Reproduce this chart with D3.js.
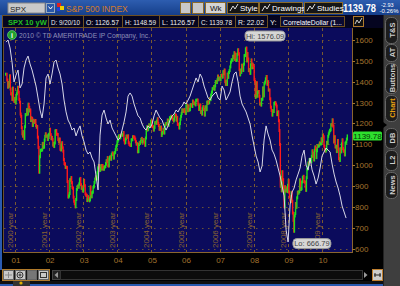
<!DOCTYPE html>
<html><head><meta charset="utf-8">
<script src="https://cdn.jsdelivr.net/npm/d3@7"></script>
<style>
html,body{margin:0;padding:0;background:#000;overflow:hidden}
svg{display:block;font-family:"Liberation Sans",Arial,sans-serif}
</style></head><body>
<svg id="c" width="400" height="286"></svg>
<script>
// ---------- data ----------
const yTicks = [600,700,800,900,1000,1100,1200,1300,1400,1500,1600];
const yearLabels = ["01","02","03","04","05","06","07","08","09","10"];
const yearTexts = ["2000 year","2001 year","2002 year","2003 year","2004 year","2005 year","2006 year","2007 year","2008 year","2009 year"];
// weekly closes of SPX grouped by month, Sep 2000 .. Sep 2010
const weeklyCloses = [
[1436],[1408,1374,1396,1379],[1428,1365,1342,1341,1315],[1369,1312,1305,1320],
[1298,1318,1342,1354,1373],[1350,1315,1302,1245],[1234,1180,1150,1139,1160],[1128,1184,1242,1242],[1266,1245,1292,1277],[1260,1264,1214,1226,1224],[1190,1215,1210,1205],[1214,1190,1182,1185,1134],[1085,966,1040,1071],[1071,1073,1104,1084],[1087,1120,1138,1150,1139],[1139,1123,1144,1148],
[1172,1146,1127,1133],[1122,1096,1104,1089,1106],[1164,1166,1148,1147],[1122,1111,1125,1076],[1073,1096,1107,1083,1067],[1027,1007,1006,989,990],[989,921,847,852],[864,930,928,940,916],[893,889,846,827,815],[800,835,884,897],[900,894,910,930,936],[906,889,895,876,880],
[927,901,862,856],[855,830,834,848,841],[829,834,895,863,848],[868,871,893,898,917],[933,944,934,963],[987,998,995,975],[985,998,981,998,990],[980,990,993,1008],[1021,1018,1036,997,996],[1029,1038,1039,1028,1050],[1058,1053,1034,1058],[1061,1074,1088,1095,1112],
[1121,1139,1141,1131],[1142,1145,1144,1145],[1156,1121,1109,1108,1126],[1139,1135,1134,1140,1107],[1099,1096,1094,1121],[1122,1136,1135,1134],[1125,1112,1101,1102],[1064,1065,1099,1107,1104],[1113,1123,1128,1110,1114],[1122,1108,1095,1130],[1167,1184,1170,1182],[1191,1189,1194,1210,1212],
[1186,1184,1168,1181],[1203,1205,1201,1211],[1222,1200,1190,1172,1181],[1172,1182,1142,1152,1157],[1172,1154,1189,1198],[1197,1200,1216,1191],[1211,1227,1229,1234],[1226,1231,1219,1212,1220],[1235,1241,1237,1216,1229],[1196,1195,1178,1199],[1220,1234,1248,1265,1257],[1263,1259,1267,1256,1248],
[1285,1288,1261,1283],[1264,1266,1289,1289],[1287,1281,1307,1302,1295],[1297,1289,1311,1311],[1312,1292,1267,1280],[1288,1253,1256,1245,1270],[1280,1267,1240,1278],[1279,1266,1302,1296,1304],[1299,1319,1314,1336],[1350,1366,1368,1377],[1364,1380,1401,1401,1396],[1409,1427,1410,1416,1418],
[1409,1431,1430,1422],[1448,1438,1456,1400],[1387,1402,1387,1436,1421],[1444,1453,1471,1494],[1505,1505,1522,1515],[1539,1507,1532,1502,1503],[1531,1553,1534,1458],[1433,1453,1445,1479,1474],[1454,1484,1525,1526],[1557,1561,1500,1535,1509],[1453,1458,1440,1481],[1504,1467,1484,1478,1468],
[1411,1401,1325,1330,1395],[1331,1349,1353,1330],[1293,1293,1288,1315,1316],[1370,1332,1390,1398],[1414,1425,1388,1400],[1360,1360,1318,1278],[1262,1240,1260,1257],[1296,1298,1299,1292,1283],[1242,1252,1255,1213,1166],[1099,899,940,877,968],[930,873,800,896],[876,879,887,873,903],
[927,870,850,832,826],[869,827,770,735],[683,756,768,816,798],[843,870,866,873],[929,883,887,919],[940,946,921,918],[897,879,940,979,987],[1010,1005,1026,1028,1021],[1016,1042,1068,1044,1057],[1025,1071,1087,1080,1036],[1069,1093,1091,1091,1096],[1106,1102,1102,1126,1115],
[1145,1136,1091,1074],[1067,1075,1109,1105],[1138,1150,1159,1166,1169],[1194,1192,1217,1187],[1111,1136,1087,1089],[1065,1092,1118,1076,1031],[1022,1078,1064,1102],[1121,1079,1071,1065,1049],[1105,1110,1125,1140]
];
const firstMonth = "2000-09-01";
// CorrelateDollar study line (in price-scale units), evenly spaced in time
const dollarStart = "2000-09-27", dollarEnd = "2010-09-16";
const dollarLine = [1590,1600,1562,1494,1399,1432,1456,1370,1389,1466,1504,1523,1485,1456,1418,1379,1322,1264,1226,1293,1418,1437,1389,1437,1494,1504,1466,1437,1389,1312,1255,1216,1197,1168,1178,1140,1168,1188,1140,1111,1072,1053,1063,1034,1015,948,881,1144,1240,1264,1226,1197,1216,1178,1159,1140,1120,1130,1168,1207,1255,1331,1346,1331,1293,1264,1236,1226,1197,1178,1168,1188,1178,1197,1236,1264,1245,1226,1216,1188,1168,1188,1216,1236,1245,1264,1255,1274,1283,1303,1293,1312,1331,1360,1389,1418,1399,1437,1418,1379,1351,1322,1312,1331,1341,1351,1322,1312,1379,1360,1312,1331,1351,1399,1437,1447,1399,1331,1293,1274,1255,1226,1197,1140,1092,1044,1015,967,996,1120,1188,1149,1120,1072,1053,1024,986,948,900,852,689,631,809,871,890,929,957,986,1044,1072,1000,977,1034,977,948,909,938,986,1044,1063,1082,1072,1063,1005,957,919,890,852,804,775,746];
const hiValue = 1576.09, hiDate = "2007-10-11";
const loValue = 666.79, loDate = "2009-03-06";
const lastPrice = 1139.78;
const headerFields = ["D: 9/20/10","O: 1126.57","H: 1148.59","L: 1126.57","C: 1139.78","R: 22.02"];
const sideTabs = ["T&S","AT","Buttons","Chart","DB","L2","News"];

// ---------- setup ----------
const svg = d3.select("#c");
const P = {l:4, r:352, t:28, b:252};
const x = d3.scaleTime().domain([new Date(2001,0,1), new Date(2010,0,1)]).range([15, 322]);
const y = d3.scaleLinear().domain([600,1600]).range([248.5, 40]);
const brown = "#a5742f";

svg.append("rect").attr("width",400).attr("height",286).attr("fill","#000");

// ---------- top bar ----------
const topG = svg.append("g");
const grad = svg.append("defs").append("linearGradient").attr("id","tb").attr("x1",0).attr("x2",0).attr("y1",0).attr("y2",1);
grad.append("stop").attr("offset",0).attr("stop-color","#2d5db0");
grad.append("stop").attr("offset",1).attr("stop-color","#163f8a");
topG.append("rect").attr("x",0).attr("y",0).attr("width",400).attr("height",15).attr("fill","url(#tb)");
topG.append("rect").attr("x",8).attr("y",3).attr("width",37).attr("height",10).attr("fill","#c9c9c9").attr("stroke","#888");
topG.append("text").attr("x",10).attr("y",11.5).attr("font-size",8).attr("fill","#222").text("SPX");
topG.append("rect").attr("x",46.5).attr("y",3.5).attr("width",8).attr("height",9).attr("fill","#2a58a8").attr("stroke","#9ab");
topG.append("path").attr("d","M48.5,6.5 L50.5,9 L52.5,6.5").attr("stroke","#fff").attr("fill","none");
topG.append("rect").attr("x",57).attr("y",3).attr("width",4).attr("height",4).attr("fill","#e02020");
topG.append("rect").attr("x",60).attr("y",6).attr("width",4).attr("height",4).attr("fill","#f0d000");
topG.append("rect").attr("x",57).attr("y",8).attr("width",3).attr("height",3).attr("fill","#2040e0");
topG.append("text").attr("x",66).attr("y",11.5).attr("font-size",8.5).attr("fill","#d07a2a").text("S&P 500 INDEX");
const btns = [[180,10,""],[192,11,""],[205,20,"Wk"],[227,31,"Style"],[259,43,"Drawings"],[304,38,"Studies"]];
btns.forEach(([bx,bw,t],i)=>{
  topG.append("rect").attr("x",bx+0.5).attr("y",2.5).attr("width",bw).attr("height",11)
    .attr("fill", i===2 ? "#d4d4d4" : (i<2 ? "#c8c8c8" : "#151515")).attr("stroke","#8a6a2a");
  if(t){
    const tx = i===2 ? bx+5 : bx+13;
    topG.append("text").attr("x",tx).attr("y",11).attr("font-size",8).attr("fill", i===2?"#111":"#fff").text(t);
    if(i>2){ topG.append("path").attr("d",`M${bx+3},${11} L${bx+6},${6} L${bx+8},${9} L${bx+11},${4}`).attr("stroke","#ddd").attr("fill","none"); }
  }
});
topG.append("text").attr("x",343).attr("y",12).attr("font-size",10).attr("font-weight","bold").attr("fill","#fff")
  .attr("textLength",33).attr("lengthAdjust","spacingAndGlyphs").text(lastPrice.toFixed(2));
topG.append("text").attr("x",381).attr("y",6.5).attr("font-size",5.5).attr("fill","#fff").text("-2.93");
topG.append("text").attr("x",379.5).attr("y",12.5).attr("font-size",5.5).attr("fill","#fff").attr("textLength",19).attr("lengthAdjust","spacingAndGlyphs").text("-0.26%");

// ---------- second row ----------
svg.append("rect").attr("x",0).attr("y",15).attr("width",383).attr("height",13).attr("fill","#050520");
const boxes = [[2,46],[48,35],[83,39],[122,37],[159,39],[198,37],[235,32]];
boxes.forEach(([bx,bw])=> svg.append("rect").attr("x",bx+0.5).attr("y",15.5).attr("width",bw).attr("height",12).attr("fill","none").attr("stroke","#6e5020"));
svg.append("text").attr("x",8).attr("y",24.5).attr("font-size",7.5).attr("font-weight","bold").attr("fill","#22c022").text("SPX 10 yW");
headerFields.forEach((t,i)=> svg.append("text").attr("x",boxes[i+1][0]+3).attr("y",24.5).attr("font-size",7.5)
  .attr("textLength",boxes[i+1][1]-6).attr("lengthAdjust","spacingAndGlyphs").attr("fill","#eee").text(t));
svg.append("text").attr("x",270).attr("y",24.5).attr("font-size",7.5).attr("fill","#eee").text("Y:");
svg.append("rect").attr("x",280.5).attr("y",16.5).attr("width",64).attr("height",10).attr("fill","#0a0a30").attr("stroke","#6e5020");
svg.append("text").attr("x",283).attr("y",24.5).attr("font-size",7.5).attr("fill","#fff").attr("textLength",59).attr("lengthAdjust","spacingAndGlyphs").text("CorrelateDollar (1...");
svg.append("rect").attr("x",353.5).attr("y",16.5).attr("width",10).attr("height",10).attr("fill","#111").attr("stroke","#b07a2a");
svg.append("path").attr("d","M355,24 L357,20 L359,23 L362,18").attr("stroke","#ccc").attr("fill","none");

// ---------- plot ----------
svg.append("rect").attr("x",P.l).attr("y",P.t).attr("width",P.r-P.l).attr("height",P.b-P.t).attr("fill","#0b0b5c");
svg.append("clipPath").attr("id","pc").append("rect").attr("x",P.l).attr("y",P.t).attr("width",P.r-P.l).attr("height",P.b-P.t);
const plot = svg.append("g").attr("clip-path","url(#pc)");

// horizontal grid
plot.selectAll(".hg").data(yTicks).join("line")
  .attr("x1",P.l).attr("x2",P.r).attr("y1",d=>Math.round(y(d))+0.5).attr("y2",d=>Math.round(y(d))+0.5)
  .attr("stroke","#6a5235").attr("stroke-dasharray","1.5,4.5").attr("stroke-width",1);
// vertical year grid
const yearDates = d3.range(2001,2011).map(yy=>new Date(yy,0,1));
plot.selectAll(".vg").data(yearDates).join("line")
  .attr("x1",d=>Math.round(x(d))+0.5).attr("x2",d=>Math.round(x(d))+0.5).attr("y1",P.t).attr("y2",P.b)
  .attr("stroke","#7a5a30").attr("stroke-dasharray","3,3").attr("stroke-width",1);
// year texts
plot.selectAll(".yt").data(yearDates).join("text")
  .attr("transform",(d,i)=>`translate(${Math.round(x(d))-2},248) rotate(-90)`)
  .attr("font-size",8).attr("fill","#8a6330").text((d,i)=>yearTexts[i]);

// watermark
plot.append("circle").attr("cx",12).attr("cy",35).attr("r",4.5).attr("fill","#22a030").attr("stroke","#8f8").attr("stroke-width",0.5);
plot.append("text").attr("x",12).attr("y",38).attr("text-anchor","middle").attr("font-size",7).attr("font-weight","bold").attr("fill","#fff").text("i");
plot.append("text").attr("x",19).attr("y",38).attr("font-size",7).attr("fill","#8f8fb8")
  .attr("textLength",131).attr("lengthAdjust","spacingAndGlyphs").text("2010 © TD AMERITRADE IP Company, Inc.");

// candles
const months = d3.timeMonth.range(new Date(firstMonth+"T00:00:00"), new Date(2010,9,1));
const weeks = [];
months.forEach((m,mi)=>{
  const next = d3.timeMonth.offset(m,1);
  const arr = weeklyCloses[mi];
  arr.forEach((c,k)=>{
    weeks.push({date:new Date(+m + (k+0.75)/arr.length*(next-m)), close:c});
  });
});
weeks.forEach((w,i)=>{ w.open = i>0 ? weeks[i-1].close : w.close; });
plot.selectAll(".cd").data(weeks).join("rect")
  .attr("x",d=>x(d.date)-0.7).attr("width",1.4)
  .attr("y",d=>y(Math.max(d.open,d.close))-1.5)
  .attr("height",d=>Math.abs(y(d.open)-y(d.close))+3)
  .attr("fill",d=>d.close>=d.open?"#1fe01f":"#ff1a1a");

// dollar line
const t0 = new Date(dollarStart+"T00:00:00"), t1 = new Date(dollarEnd+"T00:00:00");
const dl = dollarLine.map((v,i)=>({date:new Date(+t0 + i/(dollarLine.length-1)*(t1-t0)), v}));
plot.append("path").datum(dl).attr("fill","none").attr("stroke","#d8d8e8").attr("stroke-width",1)
  .attr("d",d3.line().x(d=>x(d.date)).y(d=>y(d.v)));

// hi / lo bubbles
function bubble(label, bx, by, w){
  const g = plot.append("g");
  g.append("rect").attr("x",bx).attr("y",by).attr("width",w).attr("height",10).attr("rx",4)
    .attr("fill","#d6d6d6").attr("stroke","#999");
  g.append("text").attr("x",bx+w/2).attr("y",by+7.8).attr("text-anchor","middle").attr("font-size",7.5).attr("fill","#444").text(label);
}
bubble("Hi: "+hiValue.toFixed(2), x(new Date(hiDate)) - 1, y(hiValue) - 14, 40);
bubble("Lo: "+loValue.toFixed(2), x(new Date(loDate)) - 1, y(loValue) + 4, 38);

// axes frame
svg.append("line").attr("x1",P.r+0.5).attr("x2",P.r+0.5).attr("y1",P.t).attr("y2",P.b+1).attr("stroke","#8a6530");
svg.append("line").attr("x1",P.l).attr("x2",P.r+1).attr("y1",P.b+0.5).attr("y2",P.b+0.5).attr("stroke","#8a6530");
svg.append("line").attr("x1",P.l-0.5).attr("x2",P.l-0.5).attr("y1",P.t).attr("y2",P.b+1).attr("stroke","#6a5030");

// y axis
const ya = svg.append("g");
ya.selectAll("line").data(yTicks).join("line")
  .attr("x1",P.r).attr("x2",P.r+3).attr("y1",d=>Math.round(y(d))+0.5).attr("y2",d=>Math.round(y(d))+0.5).attr("stroke",brown);
ya.selectAll("text").data(yTicks).join("text")
  .attr("x",P.r+3).attr("y",d=>y(d)+3).attr("font-size",8).attr("fill",brown).text(d=>d);
// last price tag
svg.append("rect").attr("x",353).attr("y",y(lastPrice)-4.5).attr("width",29).attr("height",9).attr("rx",1.5).attr("fill","#2ee02e");
svg.append("text").attr("x",367.5).attr("y",y(lastPrice)+3).attr("text-anchor","middle").attr("font-size",8).attr("fill","#063806").text(lastPrice.toFixed(2));

// x axis labels
svg.selectAll(".xl").data(yearDates).join("text")
  .attr("x",d=>x(d)+1).attr("y",263).attr("text-anchor","middle").attr("font-size",8).attr("fill",brown)
  .text((d,i)=>yearLabels[i]);

// ---------- bottom toolbar ----------
svg.append("rect").attr("x",2.5).attr("y",269.5).attr("width",47).attr("height",11).attr("fill","#1a1a1a").attr("stroke","#b07a2a");
[[3,11],[15,11],[27,10],[38,11]].forEach(([bx,bw],i)=>{
  svg.append("rect").attr("x",bx+0.5).attr("y",270.5).attr("width",bw-1).attr("height",9).attr("fill", i===2?"#777":"#c8c8c8").attr("stroke","#666");
});
svg.append("path").attr("d","M5,275 L12,275 M8.5,272 L8.5,278").attr("stroke","#888");
svg.append("circle").attr("cx",20).attr("cy",275).attr("r",3).attr("fill","none").attr("stroke","#333");
svg.append("path").attr("d","M18.5,275 L21.5,275 M20,273.5 L20,276.5").attr("stroke","#333");
svg.append("rect").attr("x",40.5).attr("y",272.5).attr("width",6).attr("height",5).attr("fill","none").attr("stroke","#333");
svg.append("rect").attr("x",52.5).attr("y",270.5).attr("width",8).attr("height",9).attr("fill","#222").attr("stroke","#444");
svg.append("path").attr("d","M58,272 L54.5,275 L58,278Z").attr("fill","#999");
svg.append("rect").attr("x",60.5).attr("y",270.5).attr("width",302).attr("height",9).attr("fill","#0c0c0c").attr("stroke","#333");
svg.append("path").attr("d","M364,272 L367.5,275 L364,278Z").attr("fill","#999");
svg.append("rect").attr("x",372.5).attr("y",269.5).attr("width",10).attr("height",11).attr("fill","#ccc").attr("stroke","#c08030");
svg.append("path").attr("d","M374,275 L381,275 M375,273 L375,277 M380,273 L380,277").attr("stroke","#222");
svg.append("rect").attr("x",0).attr("y",281).attr("width",383).attr("height",3).attr("fill","#101010");
svg.append("rect").attr("x",13).attr("y",281).attr("width",17).attr("height",5).attr("fill","#333");
svg.append("circle").attr("cx",21).attr("cy",283).attr("r",1.6).attr("fill","#e0b000");
svg.append("rect").attr("x",30).attr("y",284).attr("width",370).attr("height",2).attr("fill","#2a5ab0");
svg.append("rect").attr("x",0).attr("y",284).attr("width",13).attr("height",2).attr("fill","#2a5ab0");
// left blue strip
svg.append("rect").attr("x",0).attr("y",15).attr("width",2).attr("height",255).attr("fill","#2a5ab0");

// ---------- right sidebar ----------
svg.append("rect").attr("x",383).attr("y",15).attr("width",17).attr("height",271).attr("fill","#3e3e3e");
svg.append("line").attr("x1",383.5).attr("x2",383.5).attr("y1",15).attr("y2",286).attr("stroke","#222");
const tabSpans = [[17,43],[44,61],[63,93],[95,121],[128,148],[150,170],[172,198]];
sideTabs.forEach((t,i)=>{
  const [a,b] = tabSpans[i];
  svg.append("rect").attr("x",385.5).attr("y",a+0.5).attr("width",12).attr("height",b-a).attr("rx",5)
    .attr("fill","#1c1c1c").attr("stroke","#666");
  svg.append("text").attr("transform",`translate(394.5,${(a+b)/2}) rotate(-90)`).attr("text-anchor","middle")
    .attr("font-size",7.5).attr("font-weight","bold").attr("fill", t==="Chart" ? "#e8a010" : "#cfcfcf").text(t);
});
svg.append("path").attr("d","M383,122 L387,125 L383,128Z").attr("fill","#000");
</script>
</body></html>
